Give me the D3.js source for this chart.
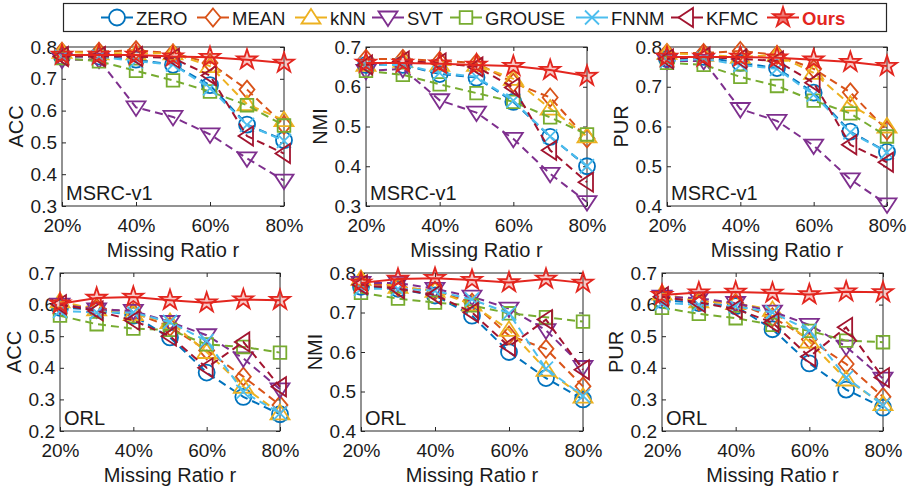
<!DOCTYPE html>
<html>
<head>
<meta charset="utf-8">
<script src="https://cdn.jsdelivr.net/npm/d3@7"></script>
<style>
  body { margin: 0; background: #fff; }
  svg { font-family: "Liberation Sans", Arial, Helvetica, sans-serif; }
</style>
</head>
<body>
<svg id="chart" width="914" height="491"></svg>
<script>
const ratios = [20, 30, 40, 50, 60, 70, 80];
const methods = ["ZERO", "MEAN", "kNN", "SVT", "GROUSE", "FNNM", "KFMC", "Ours"];

// one row per method, same order as methods
const msrcAcc = [
  [0.770, 0.770, 0.760, 0.744, 0.680, 0.556, 0.507],
  [0.785, 0.785, 0.790, 0.780, 0.750, 0.666, 0.555],
  [0.785, 0.780, 0.780, 0.780, 0.740, 0.620, 0.570],
  [0.760, 0.760, 0.610, 0.580, 0.525, 0.450, 0.380],
  [0.765, 0.755, 0.725, 0.695, 0.660, 0.617, 0.553],
  [0.770, 0.770, 0.755, 0.745, 0.670, 0.555, 0.505],
  [0.770, 0.770, 0.770, 0.765, 0.710, 0.520, 0.465],
  [0.775, 0.775, 0.775, 0.770, 0.768, 0.760, 0.750]
];
const msrcNmi = [
  [0.655, 0.655, 0.632, 0.623, 0.562, 0.474, 0.400],
  [0.670, 0.670, 0.665, 0.660, 0.610, 0.573, 0.470],
  [0.655, 0.665, 0.655, 0.655, 0.620, 0.545, 0.475],
  [0.640, 0.645, 0.566, 0.535, 0.469, 0.381, 0.310],
  [0.640, 0.630, 0.606, 0.584, 0.562, 0.523, 0.480],
  [0.655, 0.655, 0.635, 0.625, 0.565, 0.475, 0.400],
  [0.655, 0.665, 0.660, 0.650, 0.598, 0.440, 0.360],
  [0.660, 0.660, 0.658, 0.655, 0.652, 0.642, 0.627]
];
const msrcPur = [
  [0.770, 0.775, 0.760, 0.747, 0.685, 0.587, 0.536],
  [0.785, 0.785, 0.790, 0.780, 0.745, 0.686, 0.590],
  [0.785, 0.780, 0.775, 0.780, 0.735, 0.655, 0.600],
  [0.765, 0.765, 0.644, 0.614, 0.552, 0.467, 0.404],
  [0.760, 0.755, 0.725, 0.702, 0.665, 0.633, 0.575],
  [0.765, 0.770, 0.755, 0.745, 0.680, 0.585, 0.535],
  [0.770, 0.775, 0.770, 0.765, 0.710, 0.554, 0.510],
  [0.775, 0.775, 0.775, 0.773, 0.768, 0.762, 0.752]
];
const orlAcc = [
  [0.590, 0.585, 0.565, 0.496, 0.385, 0.308, 0.253],
  [0.600, 0.590, 0.575, 0.530, 0.455, 0.372, 0.282],
  [0.610, 0.585, 0.570, 0.545, 0.450, 0.340, 0.256],
  [0.600, 0.585, 0.580, 0.545, 0.503, 0.430, 0.332],
  [0.565, 0.538, 0.524, 0.520, 0.474, 0.466, 0.448],
  [0.580, 0.575, 0.575, 0.545, 0.485, 0.324, 0.256],
  [0.600, 0.580, 0.550, 0.500, 0.400, 0.482, 0.340],
  [0.603, 0.621, 0.624, 0.614, 0.606, 0.616, 0.614]
];
const orlNmi = [
  [0.765, 0.760, 0.743, 0.692, 0.600, 0.534, 0.480],
  [0.775, 0.765, 0.755, 0.725, 0.642, 0.608, 0.513],
  [0.785, 0.765, 0.755, 0.720, 0.656, 0.555, 0.487],
  [0.775, 0.775, 0.760, 0.740, 0.710, 0.655, 0.562],
  [0.750, 0.735, 0.725, 0.718, 0.698, 0.688, 0.677],
  [0.760, 0.760, 0.755, 0.733, 0.698, 0.558, 0.489],
  [0.770, 0.760, 0.745, 0.700, 0.614, 0.682, 0.555],
  [0.775, 0.785, 0.787, 0.782, 0.776, 0.785, 0.775]
];
const orlPur = [
  [0.615, 0.605, 0.595, 0.522, 0.414, 0.331, 0.274],
  [0.625, 0.610, 0.605, 0.560, 0.490, 0.412, 0.308],
  [0.635, 0.610, 0.605, 0.583, 0.483, 0.363, 0.285],
  [0.625, 0.620, 0.605, 0.578, 0.536, 0.467, 0.366],
  [0.590, 0.571, 0.557, 0.536, 0.517, 0.486, 0.481],
  [0.605, 0.600, 0.595, 0.575, 0.518, 0.369, 0.282],
  [0.625, 0.607, 0.586, 0.543, 0.435, 0.528, 0.369],
  [0.630, 0.638, 0.640, 0.637, 0.632, 0.641, 0.639]
];
const xTicks = [20, 40, 60, 80];

const colors = ["#0072bd", "#d95319", "#edb120", "#7e2f8e", "#77ac30", "#4dbeee", "#a2142f", "#e3261f"];
const shapes = ["circle", "diamond", "up", "down", "square", "cross", "left", "star"];

const panels = [
  { data: msrcAcc, label: "ACC", name: "MSRC-v1", y: [0.3, 0.8], box: [62, 284, 47, 206] },
  { data: msrcNmi, label: "NMI", name: "MSRC-v1", y: [0.3, 0.7], box: [366, 587, 47, 206] },
  { data: msrcPur, label: "PUR", name: "MSRC-v1", y: [0.4, 0.8], box: [667, 887, 47, 206] },
  { data: orlAcc, label: "ACC", name: "ORL", y: [0.2, 0.7], box: [60, 280, 273, 431] },
  { data: orlNmi, label: "NMI", name: "ORL", y: [0.4, 0.8], box: [361, 583, 273, 431] },
  { data: orlPur, label: "PUR", name: "ORL", y: [0.2, 0.7], box: [662, 883, 273, 431] }
];

const svg = d3.select("#chart");
const axisColor = "#262626";

const markerPath = shape => {
  switch (shape) {
    case "circle": return "M8,0A8,8 0 1,1 -8,0A8,8 0 1,1 8,0Z";
    case "diamond": return "M0,-9L7.5,0L0,9L-7.5,0Z";
    case "up": return "M0,-8.5L9.5,6L-9.5,6Z";
    case "down": return "M0,8.5L9.5,-6L-9.5,-6Z";
    case "square": return "M-6.3,-6.3H6.3V6.3H-6.3Z";
    case "cross": return "M-7,-7L7,7M7,-7L-7,7";
    case "left": return "M-8.5,0L6,-9.5L6,9.5Z";
    case "star": {
      const pts = d3.range(10).map(i => {
        const a = -Math.PI / 2 + i * Math.PI / 5;
        const r = i % 2 ? 4 : 10.5;
        return [r * Math.cos(a), r * Math.sin(a)];
      });
      return "M" + pts.join("L") + "Z";
    }
  }
};

const drawPanel = p => {
  const [x0, x1, y0, y1] = p.box;
  const x = d3.scaleLinear().domain([20, 80]).range([x0, x1]);
  const y = d3.scaleLinear().domain(p.y).range([y1, y0]);
  const g = svg.append("g");

  const yTicks = d3.range(Math.round(p.y[0] * 10), Math.round(p.y[1] * 10) + 1).map(v => v / 10);

  g.append("rect")
    .attr("x", x0).attr("y", y0)
    .attr("width", x1 - x0).attr("height", y1 - y0)
    .attr("fill", "#fff").attr("stroke", axisColor).attr("stroke-width", 1);

  const styleAxis = sel => {
    sel.select(".domain").remove();
    sel.selectAll("line").attr("stroke", axisColor);
    sel.selectAll("text").attr("fill", "#1a1a1a").style("font-size", "19px");
  };

  g.append("g").attr("transform", `translate(0,${y1})`)
    .call(d3.axisBottom(x).tickValues(xTicks).tickFormat(d => d + "%").tickSize(-4).tickPadding(12.5))
    .call(styleAxis);
  g.append("g").attr("transform", `translate(0,${y0})`)
    .call(d3.axisTop(x).tickValues(xTicks).tickFormat("").tickSize(-4))
    .call(styleAxis);
  g.append("g").attr("transform", `translate(${x0},0)`)
    .call(d3.axisLeft(y).tickValues(yTicks).tickFormat(d3.format(".1f")).tickSize(-4).tickPadding(5))
    .call(styleAxis);
  g.append("g").attr("transform", `translate(${x1},0)`)
    .call(d3.axisRight(y).tickValues(yTicks).tickFormat("").tickSize(-4))
    .call(styleAxis);

  g.append("text")
    .attr("x", (x0 + x1) / 2).attr("y", y1 + 51)
    .attr("text-anchor", "middle")
    .style("font-size", "20px").attr("fill", "#1a1a1a")
    .text("Missing Ratio r");

  g.append("text")
    .attr("transform", `translate(${x0 - 46},${(y0 + y1) / 2}) rotate(-90)`)
    .attr("text-anchor", "middle").attr("dy", "0.35em")
    .style("font-size", "20px").attr("fill", "#1a1a1a")
    .text(p.label);

  g.append("text")
    .attr("x", x0 + 4).attr("y", y1 - 6.5)
    .style("font-size", "20px").attr("fill", "#1a1a1a")
    .text(p.name);

  const line = d3.line().x((d, i) => x(ratios[i])).y(d => y(d));

  p.data.forEach((vals, m) => {
    const isOurs = methods[m] === "Ours";
    const s = g.append("g");
    s.append("path")
      .attr("d", line(vals))
      .attr("fill", "none")
      .attr("stroke", colors[m])
      .attr("stroke-width", 2)
      .attr("stroke-dasharray", isOurs ? null : "8,5");
    s.selectAll("path.mk")
      .data(vals)
      .enter()
      .append("path")
      .attr("class", "mk")
      .attr("transform", (d, i) => `translate(${x(ratios[i])},${y(d)})`)
      .attr("d", markerPath(shapes[m]))
      .attr("fill", isOurs ? "rgba(227,38,31,0.25)" : "none")
      .attr("stroke", colors[m])
      .attr("stroke-width", 1.8);
  });
};

panels.forEach(drawPanel);

// legend
const legendX = [117, 213, 311, 388, 466, 592, 687, 783];
const legend = svg.append("g");
legend.append("rect")
  .attr("x", 63.5).attr("y", 3.5).attr("width", 823).attr("height", 28)
  .attr("fill", "#fff").attr("stroke", axisColor).attr("stroke-width", 1.2);

methods.forEach((name, m) => {
  const cx = legendX[m];
  const isOurs = name === "Ours";
  legend.append("line")
    .attr("x1", cx - 16).attr("x2", cx + 16)
    .attr("y1", 17.5).attr("y2", 17.5)
    .attr("stroke", colors[m]).attr("stroke-width", 2);
  legend.append("path")
    .attr("transform", `translate(${cx},17.5)`)
    .attr("d", markerPath(shapes[m]))
    .attr("fill", isOurs ? "rgba(227,38,31,0.6)" : "#fff")
    .attr("stroke", colors[m]).attr("stroke-width", 1.8);
  legend.append("text")
    .attr("x", cx + 19).attr("y", 24.5)
    .style("font-size", "18.5px")
    .style("font-weight", isOurs ? "bold" : null)
    .attr("fill", isOurs ? colors[m] : "#1a1a1a")
    .text(name);
});
</script>
</body>
</html>
